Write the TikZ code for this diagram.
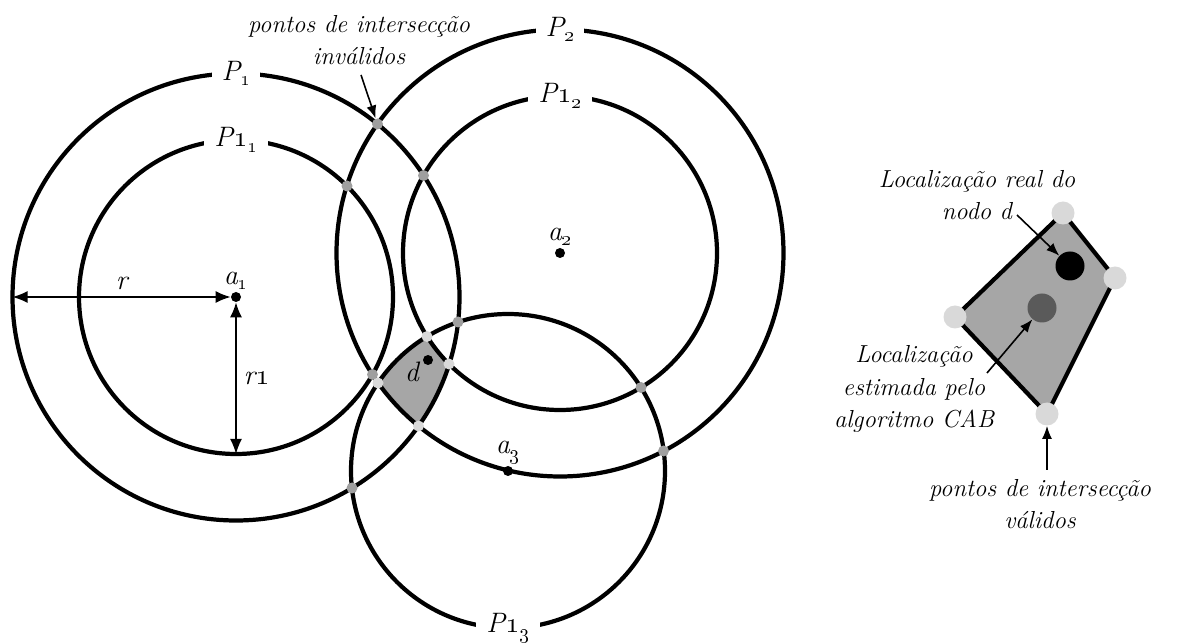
\documentclass[tikz,border=0pt]{standalone}
\usepackage{tikz}
\usetikzlibrary{arrows.meta,positioning,calc,backgrounds}
\definecolor{Region}{HTML}{A6A6A6}
\definecolor{BadPt}{HTML}{9F9F9F}
\definecolor{GoodPt}{HTML}{D9D9D9}
\definecolor{EstPt}{HTML}{5A5A5A}
\newcommand{\osn}[1]{\oldstylenums{#1}}
\newcommand{\sub}[1]{\raisebox{-.45ex}{\fontsize{13}{13}\selectfont\oldstylenums{#1}}}
\tikzset{
  ring/.style={draw=black,line width=2.4pt},
  beacon/.style={circle,fill=black,minimum size=2mm,inner sep=0pt},
  badpt/.style={circle,fill=BadPt,minimum size=2.2mm,inner sep=0pt},
  goodpt/.style={circle,fill=GoodPt,minimum size=2.2mm,inner sep=0pt},
  bigpt/.style={circle,minimum size=5.8mm,inner sep=0pt},
  dim/.style={{Latex[length=3mm,width=2.4mm]}-{Latex[length=3mm,width=2.4mm]},line width=.9pt},
  pointer/.style={-{Latex[length=2.6mm,width=2mm]},line width=.9pt},
  lab/.style={font=\fontsize{16}{18}\selectfont\itshape,inner sep=1pt},
  cut/.style={lab,fill=white,inner xsep=2mm,inner ysep=1mm},
  note/.style={font=\fontsize{14}{18.5}\selectfont\itshape,align=center,inner sep=1pt}
}

\begin{document}
\begin{tikzpicture}[x=1cm,y=1cm]
  \useasboundingbox (0,0) rectangle (23.78,12.84);

  % anchors
  \node[beacon,label={[lab]above:a\sub{1}}] (a1) at (4.72,6.90) {};
  \node[beacon,label={[lab]above:a\sub{2}}] (a2) at (11.20,7.78) {};
  \node[beacon,label={[lab]above:a\sub{3}}] (a3) at (10.16,3.42) {};

  % common area
  \begin{scope}[on background layer]
    \begin{scope}
      \clip (a1) circle (4.47);
      \clip (a2) circle (4.47);
      \clip (a3) circle (3.14);
      \fill[Region,even odd rule] (0,0) rectangle (23.78,12.84) (a2) circle (3.14);
    \end{scope}
  \end{scope}

  \draw[ring] (a1) circle (4.47);
  \draw[ring] (a1) circle (3.14);
  \draw[ring] (a2) circle (4.47);
  \draw[ring] (a2) circle (3.14);
  \draw[ring] (a3) circle (3.14);

  \node[cut] (p1) at ($(a1)+(0,4.47)$) {P\sub{1}};
  \node[cut] (p11) at ($(a1)+(0,3.14)$) {P\osn{1}\sub{1}};
  \node[cut] (p2) at ($(a2)+(0,4.47)$) {P\sub{2}};
  \node[cut] (p12) at ($(a2)+(0,3.14)$) {P\osn{1}\sub{2}};
  \node[cut] (p13) at ($(a3)+(0,-3.14)$) {P\osn{1}\sub{3}};

  % radii
  \coordinate (redge) at ($(a1)+(-4.47,0)$);
  \coordinate (r1edge) at ($(a1)+(0,-3.14)$);
  \draw[dim] (a1) -- node[lab,above=1mm] (rtxt) {r} (redge);
  \draw[dim] (a1) -- node[lab,right=1mm] (r1txt) {r\osn{1}} (r1edge);

  % invalid intersection points
  \node[badpt] (b1) at (7.55,10.36) {};
  \node[badpt] (b2) at (6.94,9.12) {};
  \node[badpt] (b3) at (8.47,9.33) {};
  \node[badpt] (b4) at (9.16,6.40) {};
  \node[badpt] (b5) at (7.45,5.35) {};
  \node[badpt] (b6) at (12.82,5.09) {};
  \node[badpt] (b7) at (13.27,3.82) {};
  \node[badpt] (b8) at (7.04,3.08) {};

  % valid intersection points
  \node[goodpt] (g1) at (8.54,6.11) {};
  \node[goodpt] (g2) at (8.98,5.56) {};
  \node[goodpt] (g3) at (8.37,4.32) {};
  \node[goodpt] (g4) at (7.56,5.18) {};

  \node[beacon] (d) at (8.56,5.64) {};
  \node[lab] (dtxt) at (8.24,5.40) {d};

  \node[note] (invalid) at (7.18,12.04) {pontos de intersecção\\inválidos};
  \coordinate (invtail) at (7.22,11.34);
  \draw[pointer] (invtail) -- (b1);

  % zoomed area
  \node[goodpt,minimum size=4.6mm] (vt) at (21.26,8.58) {};
  \node[goodpt,minimum size=4.6mm] (vr) at (22.30,7.28) {};
  \node[goodpt,minimum size=4.6mm] (vb) at (20.94,4.56) {};
  \node[goodpt,minimum size=4.6mm] (vl) at (19.10,6.50) {};
  \begin{scope}[on background layer]
    \filldraw[fill=Region,draw=black,line width=2.4pt] (vt.center) -- (vr.center) -- (vb.center) -- (vl.center) -- cycle;
  \end{scope}
  \node[bigpt,fill=black] (real) at (21.40,7.52) {};
  \node[bigpt,fill=EstPt] (est) at (20.84,6.68) {};

  \node[note] (realtxt) at (19.54,8.94) {Localização real do\\nodo d};
  \coordinate (realtail) at (20.34,8.54);
  \draw[pointer] (realtail) -- (real);

  \node[note] (esttxt) at (18.28,5.06) {Localização\\estimada pelo\\algoritmo CAB};
  \coordinate (esttail) at (19.74,5.38);
  \draw[pointer] (esttail) -- (est);

  \node[note] (valid) at (20.80,2.76) {pontos de intersecção\\válidos};
  \coordinate (validtail) at (20.94,3.44);
  \draw[pointer] (validtail) -- (vb);
\end{tikzpicture}
\end{document}
